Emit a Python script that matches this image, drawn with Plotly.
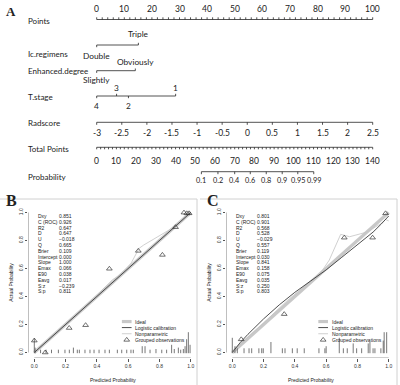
import plotly.graph_objects as go

W, H = 400, 385

# ---------------- Panel A (nomogram) data ----------------
points_ticks = list(range(0, 101, 10))
points_minor = list(range(0, 101, 2))
ic_levels = ["Double", "Triple"]
ic_points = [0.0, 15.1]
ic_side = ["below", "above"]
enh_levels = ["Slightly", "Obviously"]
enh_points = [0.0, 14.0]
enh_side = ["below", "above"]
tstage_levels = ["4", "3", "2", "1"]
tstage_points = [0.0, 7.2, 11.5, 28.6]
tstage_side = ["below", "above", "below", "above"]
radscore_ticks = [-3, -2.5, -2, -1.5, -1, -0.5, 0, 0.5, 1, 1.5, 2, 2.5]
radscore_labels = ["-3", "-2.5", "-2", "-1.5", "-1", "-0.5", "0", "0.5", "1", "1.5", "2", "2.5"]
total_ticks = list(range(0, 141, 10))
total_minor = list(range(0, 141, 2))
prob_labels = ["0.1", "0.2", "0.4", "0.6", "0.8", "0.9", "0.95", "0.99"]
prob_total_points = [53.1, 61.5, 70.0, 77.9, 86.0, 94.1, 102.0, 110.1]

# ---------------- Panel B / C data ----------------
stat_names = ["Dxy", "C (ROC)", "R2", "D", "U", "Q", "Brier", "Intercept", "Slope",
              "Emax", "E90", "Eavg", "S:z", "S:p"]
b_stats = ["0.851", "0.926", "0.647", "0.647", "\u22120.018", "0.665", "0.109", "0.000",
           "1.000", "0.066", "0.038", "0.017", "\u22120.239", "0.811"]
c_stats = ["0.801", "0.901", "0.568", "0.528", "\u22120.029", "0.557", "0.119", "0.030",
           "0.841", "0.158", "0.075", "0.035", "0.250", "0.803"]

ideal_x = [0, 1]
ideal_y = [0, 1]

b_obs_pred = [0.0, 0.07, 0.223, 0.328, 0.48, 0.665, 0.819, 0.903, 0.957, 0.975, 0.99]
b_obs_act = [0.085, 0.0, 0.175, 0.195, 0.598, 0.726, 0.697, 0.895, 0.999, 0.994, 0.994]
b_logit_x = [0.0, 0.5, 1.0]
b_logit_y = [0.0, 0.5, 1.0]
b_np_x = [0.0, 0.1, 0.3, 0.5, 0.55, 0.62, 0.67, 0.70, 0.8, 0.9, 0.97, 1.0]
b_np_y = [0.0, 0.1, 0.3, 0.52, 0.555, 0.64, 0.744, 0.768, 0.835, 0.9, 0.97, 1.0]
b_spike_x = [0.0, 0.005, 0.04, 0.075, 0.11, 0.154, 0.196, 0.224, 0.25, 0.275, 0.288, 0.324,
             0.356, 0.382, 0.414, 0.452, 0.48, 0.531, 0.559, 0.591, 0.618, 0.633, 0.69, 0.708,
             0.74, 0.778, 0.815, 0.846, 0.878, 0.895, 0.921, 0.936, 0.953, 0.964, 0.974, 0.985, 0.996]
b_spike_h = [0.106, 0.04, 0.025, 0.025, 0.025, 0.025, 0.025, 0.025, 0.04, 0.025, 0.025, 0.025,
             0.025, 0.025, 0.025, 0.025, 0.025, 0.025, 0.025, 0.025, 0.025, 0.025, 0.05, 0.05,
             0.025, 0.03, 0.025, 0.025, 0.06, 0.03, 0.04, 0.025, 0.03, 0.05, 0.1, 0.15, 0.06]

c_obs_pred = [0.057, 0.332, 0.716, 0.897, 0.98]
c_obs_act = [0.094, 0.274, 0.82, 0.82, 0.994]
c_logit_x = [0.0, 0.05, 0.1, 0.2, 0.3, 0.4, 0.5, 0.6, 0.7, 0.8, 0.9, 0.95, 1.0]
c_logit_y = [0.0, 0.07, 0.13, 0.24, 0.34, 0.43, 0.51, 0.59, 0.68, 0.77, 0.86, 0.915, 0.975]
c_np_x = [0.0, 0.05, 0.2, 0.35, 0.5, 0.56, 0.62, 0.693, 0.75, 0.86, 0.95, 0.98, 1.0]
c_np_y = [0.0, 0.06, 0.21, 0.37, 0.51, 0.56, 0.66, 0.844, 0.827, 0.86, 0.92, 0.95, 0.94]
c_spike_x = [0.0, 0.017, 0.032, 0.075, 0.107, 0.124, 0.17, 0.188, 0.198, 0.247, 0.32, 0.337,
             0.384, 0.415, 0.46, 0.554, 0.592, 0.6, 0.684, 0.71, 0.735, 0.773, 0.795, 0.827,
             0.869, 0.88, 0.9, 0.912, 0.95, 0.965, 0.971, 0.987]
c_spike_h = [0.11, 0.05, 0.035, 0.035, 0.035, 0.035, 0.035, 0.035, 0.035, 0.08, 0.035, 0.035,
             0.035, 0.035, 0.035, 0.035, 0.035, 0.05, 0.11, 0.035, 0.035, 0.07, 0.035, 0.035,
             0.07, 0.08, 0.035, 0.035, 0.035, 0.09, 0.15, 0.15]

legend_items = ["Ideal", "Logistic calibration", "Nonparametric", "Grouped observations"]

# ---------------- layout constants (pixels) ----------------
PX0 = 96.7          # pixel of 0 points
PPP = 2.76          # pixels per point
LINE = "#262626"
FONT_A = "Lato"
FONT_B = "Liberation Sans"

B_X0, C_X0, UX = 34.3, 232.3, 156.4
Y0, UY = 352.5, 140.0
PAD = 0.04


def pts_from_rad(r):
    return (r - radscore_ticks[0]) / (radscore_ticks[-1] - radscore_ticks[0]) * 100.0


def pts_from_total(t):
    return t * 100.0 / total_ticks[-1]


fig = go.Figure()
ann = []
shapes = []


def add_line(xs, ys, xa="x", ya="y", color=LINE, width=0.8, dash=None):
    fig.add_trace(go.Scatter(x=xs, y=ys, mode="lines", xaxis=xa, yaxis=ya,
                             line=dict(color=color, width=width, dash=dash),
                             hoverinfo="skip", showlegend=False))


def ticks(xs, y, length):
    X, Y = [], []
    for v in xs:
        X += [v, v, None]
        Y += [y, y + length, None]
    return X, Y


def txt(x, y, s, size=8.5, xref="x", yref="y", xanchor="center", font=FONT_A, angle=0):
    ann.append(dict(x=x, y=y, xref=xref, yref=yref, text=s, showarrow=False,
                    xanchor=xanchor, yanchor="middle", textangle=angle,
                    font=dict(family=font, size=size, color="#222")))


# Row names
row_names = [("Points", 21), ("Ic.regimens", 54), ("Enhanced.degree", 70.5), ("T.stage", 97),
             ("Radscore", 123.3), ("Total Points", 149.3), ("Probability", 177.3)]
for name, yy in row_names:
    txt(26 / W, yy, name, size=8, xref="paper", xanchor="left")

# Points axis
add_line([points_ticks[0], points_ticks[-1]], [19.5, 19.5])
X, Y = ticks(points_minor, 19.5, -2.2)
add_line(X, Y)
for v in points_ticks:
    txt(v, 9, str(v))

# Categorical rows
def cat_row(levels, pts, side, yline, yabove, ybelow):
    add_line([min(pts), max(pts)], [yline, yline])
    for lev, p, s in zip(levels, pts, side):
        d = -2.2 if s == "above" else 2.2
        add_line([p, p], [yline, yline + d])
        txt(p, yabove if s == "above" else ybelow, lev, size=8.3)

cat_row(ic_levels, ic_points, ic_side, 45, 34, 55.5)
cat_row(enh_levels, enh_points, enh_side, 70.7, 61.5, 80)
cat_row(tstage_levels, tstage_points, tstage_side, 96, 87.5, 106)

# Radscore
rp = [pts_from_rad(r) for r in radscore_ticks]
add_line([rp[0], rp[-1]], [122.3, 122.3])
X, Y = ticks(rp, 122.3, 2.5)
add_line(X, Y)
for p, lab in zip(rp, radscore_labels):
    txt(p, 133.3, lab)

# Total points
tp = [pts_from_total(t) for t in total_minor]
add_line([tp[0], tp[-1]], [147.3, 147.3])
X, Y = ticks(tp, 147.3, 2.0)
add_line(X, Y)
for t in total_ticks:
    txt(pts_from_total(t), 160.7, str(t))

# Probability
pp = [pts_from_total(t) for t in prob_total_points]
add_line([pp[0], pp[-1]], [171.7, 171.7])
X, Y = ticks(pp, 171.7, 2.5)
add_line(X, Y)
for p, lab in zip(pp, prob_labels):
    txt(p, 180.7, lab, size=7.3)

# Panel letters
txt(11 / W, 1 - 11 / H, "<b>A</b>", size=13, xref="paper", yref="paper", font="Liberation Serif")
txt(11 / W, 1 - 201 / H, "<b>B</b>", size=16, xref="paper", yref="paper", font="Liberation Serif")
txt(213 / W, 1 - 201 / H, "<b>C</b>", size=16, xref="paper", yref="paper", font="Liberation Serif")


# ---------------- calibration panels ----------------
def calib(xa, ya, x0px, obs_x, obs_y, lx, ly, npx, npy, spx, sph, stats, leg_x0):
    add_line(ideal_x, ideal_y, xa, ya, color="#c8c8c8", width=3.2)
    X, Y = [], []
    for v, h in zip(spx, sph):
        X += [v, v, None]
        Y += [-0.005, -0.005 + h, None]
    add_line(X, Y, xa, ya, color="#555555", width=0.8)
    add_line(npx, npy, xa, ya, color="#c4c4c4", width=0.8)
    add_line(lx, ly, xa, ya, color="#3a3a3a", width=0.9)
    fig.add_trace(go.Scatter(x=obs_x, y=obs_y, mode="markers", xaxis=xa, yaxis=ya,
                             marker=dict(symbol="triangle-up-open", size=5, color="#333",
                                         line=dict(width=0.7)),
                             hoverinfo="skip", showlegend=False))
    for i, (n, v) in enumerate(zip(stat_names, stats)):
        yy = 1 - (216 + i * 5.8) / H
        txt((x0px + 1.5) / W, yy, n, size=5, xref="paper", yref="paper", xanchor="left", font=FONT_B)
        txt((x0px + 22.5) / W, yy, v, size=5, xref="paper", yref="paper", xanchor="left", font=FONT_B)
    rows_y = [0.221, 0.178, 0.134, 0.09]
    sx0, sx1, tx = leg_x0, leg_x0 + 0.062, leg_x0 + 0.074
    add_line([sx0, sx1], [rows_y[0]] * 2, xa, ya, color="#c8c8c8", width=3.2)
    add_line([sx0, sx1], [rows_y[1]] * 2, xa, ya, color="#3a3a3a", width=0.9)
    add_line([sx0, sx1], [rows_y[2]] * 2, xa, ya, color="#c4c4c4", width=0.8)
    fig.add_trace(go.Scatter(x=[(sx0 + sx1) / 2], y=[rows_y[3]], mode="markers", xaxis=xa, yaxis=ya,
                             marker=dict(symbol="triangle-up-open", size=5, color="#333",
                                         line=dict(width=0.7)),
                             hoverinfo="skip", showlegend=False))
    for lab, yy in zip(legend_items, rows_y):
        txt(tx, yy, lab, size=5, xref=xa, yref=ya, xanchor="left", font=FONT_B)
    shapes.append(dict(type="line", xref=xa, yref=ya, x0=0, x1=1, y0=-PAD, y1=-PAD,
                       line=dict(color="#555", width=0.7)))
    shapes.append(dict(type="line", xref=xa, yref=ya, x0=-PAD, x1=-PAD, y0=0, y1=1,
                       line=dict(color="#555", width=0.7)))
    cx = x0px + UX / 2
    txt(cx / W, 1 - 380 / H, "Predicted Probability", size=5, xref="paper", yref="paper", font=FONT_B)
    txt((x0px - 24) / W, 1 - (Y0 - UY / 2) / H, "Actual Probability", size=5, xref="paper",
        yref="paper", font=FONT_B, angle=-90)


calib("x2", "y2", B_X0, b_obs_pred, b_obs_act, b_logit_x, b_logit_y, b_np_x, b_np_y,
      b_spike_x, b_spike_h, b_stats, 0.56)
calib("x3", "y3", C_X0, c_obs_pred, c_obs_act, c_logit_x, c_logit_y, c_np_x, c_np_y,
      c_spike_x, c_spike_h, c_stats, 0.55)

for xl, xr in [(0, 197), (200, 397)]:
    shapes.append(dict(type="line", xref="paper", yref="paper", x0=xl / W, x1=xr / W,
                       y0=1 - 199 / H, y1=1 - 199 / H, line=dict(color="#d0d0d0", width=1)))
    shapes.append(dict(type="line", xref="paper", yref="paper", x0=xr / W, x1=xr / W,
                       y0=1 - 199 / H, y1=0, line=dict(color="#d0d0d0", width=1)))


def xdom(x0px):
    return [(x0px - PAD * UX) / W, (x0px + (1 + PAD) * UX) / W]


ydom = [1 - (Y0 + PAD * UY) / H, 1 - (Y0 - (1 + PAD) * UY) / H]
tv = [0, 0.2, 0.4, 0.6, 0.8, 1.0]
tt = ["0.0", "0.2", "0.4", "0.6", "0.8", "1.0"]
cal_ax = dict(range=[-PAD, 1 + PAD], tickvals=tv, ticktext=tt, ticks="outside", ticklen=2.5,
              tickwidth=0.7, tickcolor="#555", showgrid=False, zeroline=False, showline=False,
              tickfont=dict(family=FONT_B, size=5, color="#333"), fixedrange=True)

fig.update_layout(
    width=W, height=H, margin=dict(l=0, r=0, t=0, b=0),
    paper_bgcolor="white", plot_bgcolor="rgba(0,0,0,0)", showlegend=False,
    xaxis=dict(domain=[0, 1], range=[-PX0 / PPP, (W - PX0) / PPP], visible=False, anchor="y"),
    yaxis=dict(domain=[0, 1], range=[H, 0], visible=False, anchor="x"),
    xaxis2=dict(domain=xdom(B_X0), anchor="y2", **cal_ax),
    yaxis2=dict(domain=ydom, anchor="x2", tickangle=-90, **cal_ax),
    xaxis3=dict(domain=xdom(C_X0), anchor="y3", **cal_ax),
    yaxis3=dict(domain=ydom, anchor="x3", tickangle=-90, **cal_ax),
    annotations=ann, shapes=shapes,
)

fig.write_html("out.html", config={"displayModeBar": False},
               post_script="document.body.style.margin='0';document.body.style.padding='0';")
